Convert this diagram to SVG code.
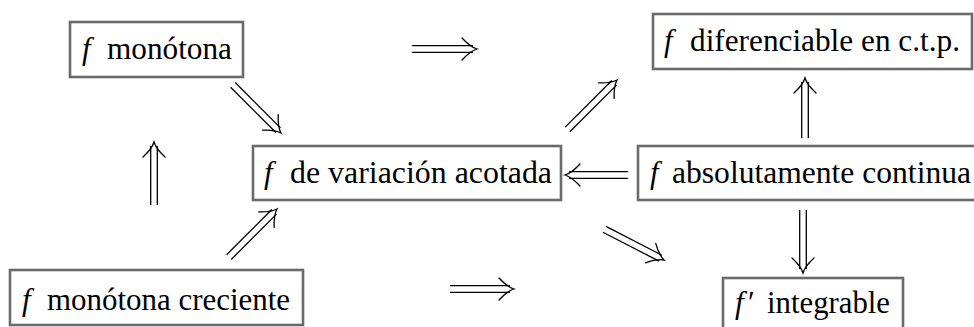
<svg xmlns="http://www.w3.org/2000/svg" xmlns:xlink="http://www.w3.org/1999/xlink" width="974" height="327" viewBox="0 0 974 327">
<style>
.box{fill:#fff;stroke:#6a6a6a;stroke-width:2.6}
.t{font-family:'Liberation Serif','Times New Roman',serif;font-size:31px;fill:#000}
.fi{font-style:italic}
.ar line{stroke:#000;stroke-width:1.3}
.hd{fill:none;stroke:#000;stroke-width:1.3;stroke-linecap:round}
</style>
<defs>
<path id="head" class="hd" d="M-15,-11 C-9,-4.5 -4,-1.2 0,0 C-4,1.2 -9,4.5 -15,11"/>
</defs>
<rect width="974" height="327" fill="#fff"/>
<g id="n-monotona">
<rect class="box" x="70" y="22" width="173" height="55"/>
<text class="t fi" x="82" y="59">f</text>
<text class="t" x="107" y="59" textLength="125" lengthAdjust="spacingAndGlyphs">monótona</text>
</g>
<g id="n-diferenciable">
<rect class="box" x="653" y="14" width="319" height="55"/>
<text class="t fi" x="664" y="51">f</text>
<text class="t" x="690" y="51" textLength="270" lengthAdjust="spacingAndGlyphs">diferenciable en c.t.p.</text>
</g>
<g id="n-variacion">
<rect class="box" x="253" y="146" width="308" height="54"/>
<text class="t fi" x="264" y="183">f</text>
<text class="t" x="290" y="183" textLength="262" lengthAdjust="spacingAndGlyphs">de variación acotada</text>
</g>
<g id="n-absolutamente">
<rect class="box" x="638" y="146" width="350" height="54"/>
<text class="t fi" x="650" y="183">f</text>
<text class="t" x="672" y="183" textLength="299" lengthAdjust="spacingAndGlyphs">absolutamente continua</text>
</g>
<g id="n-creciente">
<rect class="box" x="10" y="270" width="293" height="55"/>
<text class="t fi" x="22" y="310">f</text>
<text class="t" x="47" y="310" textLength="243" lengthAdjust="spacingAndGlyphs">monótona creciente</text>
</g>
<g id="n-integrable">
<rect class="box" x="723" y="278" width="180" height="60"/>
<text class="t fi" x="735" y="313">f</text>
<text class="t" x="748" y="313">′</text>
<text class="t" x="767" y="313" textLength="123" lengthAdjust="spacingAndGlyphs">integrable</text>
</g>
<g id="connectors" class="ar">
<g transform="translate(477,49)"><line x1="-65" y1="-3.3" x2="-4" y2="-3.3"/><line x1="-65" y1="3.3" x2="-4" y2="3.3"/><use xlink:href="#head"/></g>
<g transform="translate(281,133) rotate(45)"><line x1="-68" y1="-3.3" x2="-4" y2="-3.3"/><line x1="-68" y1="3.3" x2="-4" y2="3.3"/><use xlink:href="#head"/></g>
<g transform="translate(154,142) rotate(-90)"><line x1="-63" y1="-3.3" x2="-4" y2="-3.3"/><line x1="-63" y1="3.3" x2="-4" y2="3.3"/><use xlink:href="#head"/></g>
<g transform="translate(277,209) rotate(-45)"><line x1="-68" y1="-3.3" x2="-4" y2="-3.3"/><line x1="-68" y1="3.3" x2="-4" y2="3.3"/><use xlink:href="#head"/></g>
<g transform="translate(514,289)"><line x1="-64" y1="-3.3" x2="-4" y2="-3.3"/><line x1="-64" y1="3.3" x2="-4" y2="3.3"/><use xlink:href="#head"/></g>
<g transform="translate(565,175) rotate(180)"><line x1="-63" y1="-3.3" x2="-4" y2="-3.3"/><line x1="-63" y1="3.3" x2="-4" y2="3.3"/><use xlink:href="#head"/></g>
<g transform="translate(617,80) rotate(-45)"><line x1="-70" y1="-3.3" x2="-4" y2="-3.3"/><line x1="-70" y1="3.3" x2="-4" y2="3.3"/><use xlink:href="#head"/></g>
<g transform="translate(805,78) rotate(-90)"><line x1="-60" y1="-3.3" x2="-4" y2="-3.3"/><line x1="-60" y1="3.3" x2="-4" y2="3.3"/><use xlink:href="#head"/></g>
<g transform="translate(664,260) rotate(27.3)"><line x1="-67" y1="-3.3" x2="-4" y2="-3.3"/><line x1="-67" y1="3.3" x2="-4" y2="3.3"/><use xlink:href="#head"/></g>
<g transform="translate(803,273) rotate(90)"><line x1="-63" y1="-3.3" x2="-4" y2="-3.3"/><line x1="-63" y1="3.3" x2="-4" y2="3.3"/><use xlink:href="#head"/></g>
</g>
</svg>
